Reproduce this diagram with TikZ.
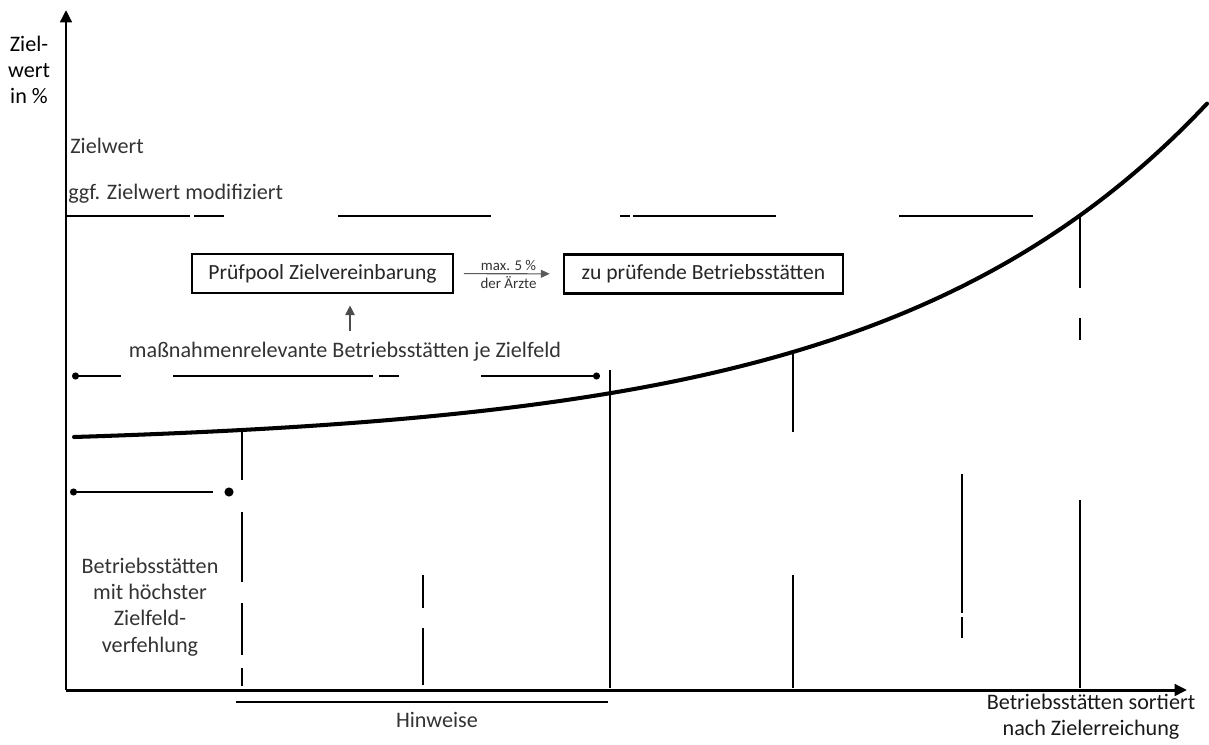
\documentclass[tikz,border=0pt]{standalone}
\usepackage{fontspec}
\setmainfont{Carlito}
\usetikzlibrary{arrows.meta,positioning}

\tikzset{
  axis/.style={line width=1.7pt, -{Triangle[length=7pt,width=6.5pt]}},
  kurve/.style={line width=2.3pt, line cap=round},
  hilf/.style={line width=0.75pt},
  txt/.style={font=\fontsize{12.6}{15}\selectfont, text=black!80, inner sep=0pt, align=center},
  klein/.style={font=\fontsize{8.5}{9}\selectfont, text=black!80, inner sep=1.5pt},
  kasten/.style={draw, line width=1.3pt, font=\fontsize{12.3}{15}\selectfont, text=black!85,
    minimum height=0.78cm, inner sep=0pt}
}

\begin{document}
\begin{tikzpicture}[x=0.02cm, y=-0.02cm]
  \useasboundingbox (0,0) rectangle (1209,744);

  % Achsen
  \coordinate (O) at (66,690);
  \coordinate (ytop) at (66,10);
  \coordinate (xend) at (1187,690);
  \draw[axis] (O) -- (ytop);
  \draw[axis] (O) -- (xend);

  % Achsenbeschriftung
  \node[txt, text=black] (ylab) at (29,70) {Ziel-\\wert\\in \%};
  \node[txt, text=black!90] (xlab) at (1091,717) {Betriebsstätten sortiert\\nach Zielerreichung};

  % Zielwerte
  \node[txt, anchor=west] (zw) at (70,146) {Zielwert};
  \node[txt, anchor=west] (zwmod) at (68,194) {ggf. Zielwert modifiziert};
  \foreach \a/\b in {67/190, 194/224, 338/491, 620/630, 633/776, 899/1033}
    \draw[hilf] (\a,216) -- (\b,216);

  % Kurve
  \draw[kurve] plot[domain=74:1207, samples=80, smooth]
    (\x, {437-10.28*(exp(0.0031*(\x-74))-1)});

  % senkrechte Linien
  \foreach \x/\a/\b in {242/431/480, 242/512/582, 242/603/655, 242/668/686,
                        423/575/608, 423/628/685,
                        610/370/688,
                        793/352/432, 793/575/688,
                        962/474/613, 962/617/638,
                        1080/217/288, 1080/318/340, 1080/500/688}
    \draw[hilf] (\x,\a) -- (\x,\b);

  % Kaesten
  \node[kasten, minimum width=5.22cm] (pool) at (322.5,273.5) {Prüfpool Zielvereinbarung};
  \node[kasten, minimum width=5.58cm] (pruef) at (703.5,274) {zu prüfende Betriebsstätten};
  \draw[black!65, line width=0.6pt, -{Triangle[length=5pt,width=4.5pt]},
        shorten <=5.5pt, shorten >=7.5pt] (pool) -- (pruef)
    node[klein, midway, above] {max. 5 \%}
    node[klein, midway, below] {der Ärzte};

  % massnahmenrelevante Betriebsstaetten
  \node[txt] (mrel) at (345,352) {maßnahmenrelevante Betriebsstätten je Zielfeld};
  \coordinate (pfeilfuss) at (350,331);
  \draw[black!70, line width=0.6pt, -{Triangle[length=5.5pt,width=5.5pt]}, shorten >=6.5pt]
    (pfeilfuss) -- (pfeilfuss |- pool.south);
  \coordinate (mlinks) at (72,376);
  \coordinate (mrechts) at (600,376);
  \draw[hilf, {Circle[length=4pt]}-] (mlinks) -- (121,376);
  \draw[hilf] (173,376) -- (373,376);
  \draw[hilf] (379,376) -- (399,376);
  \draw[hilf, -{Circle[length=4pt]}] (481,376) -- (mrechts);

  % hoechste Zielfeldverfehlung
  \coordinate (vlinks) at (70,492);
  \draw[hilf, {Circle[length=4pt]}-] (vlinks) -- (213,492);
  \fill (229,492) circle (2.6pt);
  \node[txt] (verf) at (150,607) {Betriebsstätten\\mit höchster\\Zielfeld-\\verfehlung};

  % Hinweise
  \draw[line width=1.1pt] (236,702) -- (608,702);
  \node[txt] (hinw) at (437,720) {Hinweise};
\end{tikzpicture}
\end{document}
